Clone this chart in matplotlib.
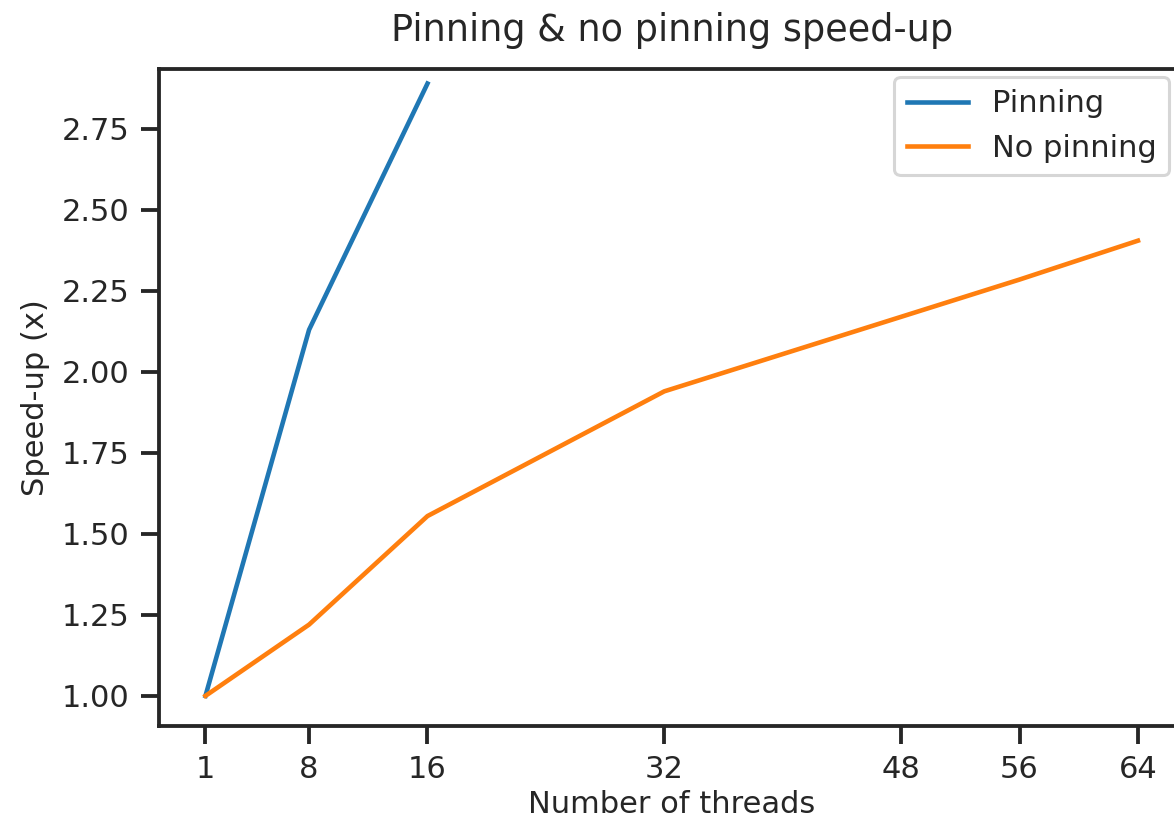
import matplotlib
matplotlib.use("Agg")
import matplotlib.pyplot as plt

threads_pin = [1, 8, 16]
speedup_pin = [1.0, 2.13, 2.89]

threads_nopin = [1, 8, 16, 32, 48, 56, 64]
speedup_nopin = [1.0, 1.22, 1.555, 1.94, 2.17, 2.285, 2.405]

xticks = [1, 8, 16, 32, 48, 56, 64]

plt.rcParams["axes.edgecolor"] = ".15"
plt.rcParams["axes.linewidth"] = 1.25
plt.rcParams["xtick.color"] = ".15"
plt.rcParams["ytick.color"] = ".15"
plt.rcParams["xtick.major.width"] = 1.25
plt.rcParams["ytick.major.width"] = 1.25
plt.rcParams["xtick.major.size"] = 6
plt.rcParams["ytick.major.size"] = 6
plt.rcParams["text.color"] = ".15"
plt.rcParams["axes.labelcolor"] = ".15"

fig = plt.figure(figsize=(1174 / 220, 821 / 220), dpi=220)
ax = fig.add_axes([0.1353, 0.1157, 1.009 - 0.1353, 0.916 - 0.1157])

ax.plot(threads_pin, speedup_pin, label="Pinning", color="#1f77b4", linewidth=1.5)
ax.plot(threads_nopin, speedup_nopin, label="No pinning", color="#ff7f0e", linewidth=1.5)

ax.set_xticks(xticks)
ax.set_xlim(-2.15, 67.15)
ax.set_ylim(0.907, 2.935)
ax.set_title("Pinning & no pinning speed-up", pad=9.3)
ax.set_xlabel("Number of threads", labelpad=2)
ax.set_ylabel("Speed-up (x)")
ax.legend(loc="upper right", bbox_to_anchor=(1174 / 1184.5 + 0.0088, 1.0107))

fig.savefig("out.png", dpi=220)
